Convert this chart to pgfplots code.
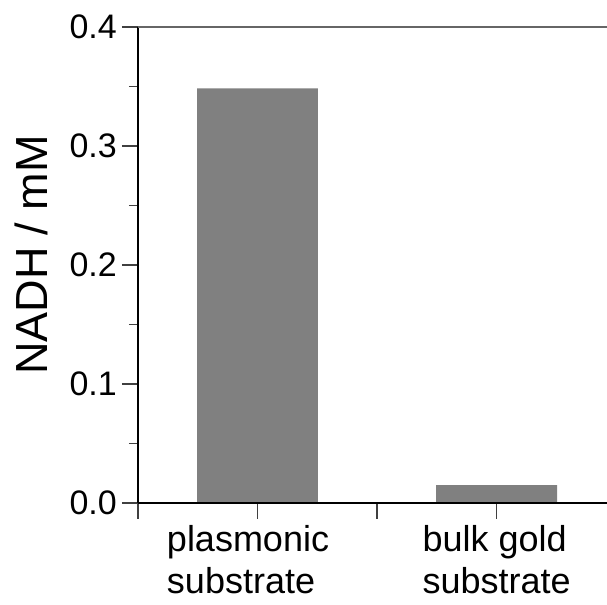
\documentclass[border=0pt]{standalone}
\usepackage{pgfplots}
\pgfplotsset{compat=1.18}
\usepackage{fontspec}
\setmainfont{Liberation Sans}
\begin{document}
\begin{tikzpicture}
\begin{axis}[
  name=ax,
  scale only axis,
  width=469pt, height=476pt,
  xmin=-0.5, xmax=1.462,
  ymin=0, ymax=0.4,
  axis x line=bottom,
  axis y line=left,
  axis line style={-, line width=1.1pt, black},
  tick align=outside,
  xtick={-0.5,0,0.5,1},
  xticklabels={,{\hspace*{-19pt}plasmonic\\\hspace*{-19pt}substrate},,{bulk gold\\substrate}},
  xticklabel style={align=left, font=\fontsize{36}{42}\selectfont, inner sep=0pt, yshift=-6pt},
  ytick={0,0.1,0.2,0.3,0.4},
  minor ytick={0.05,0.15,0.25,0.35},
  major tick length=16pt,
  minor tick length=9pt,
  every tick/.style={line width=1.1pt, black!75},
  yticklabel style={font=\fontsize{34}{40}\selectfont, inner sep=0pt, xshift=-5pt},
  /pgf/number format/.cd, fixed, fixed zerofill, precision=1, assume math mode=true,
  /pgfplots/.cd,
  ylabel={NADH / mM},
  ylabel style={font=\fontsize{45}{50}\selectfont, at={(axis description cs:-0.228,0.521)}, anchor=center, rotate=0},
  clip=false,
]
\addplot[ybar, bar width=0.506, fill=black!50, draw=none] coordinates {(0,0.3485) (1,0.015)};
\draw[line width=1.1pt, black!60] (rel axis cs:0,1) -- (rel axis cs:1,1);
\draw[line width=1.1pt, black] (rel axis cs:0,0) -- (rel axis cs:1,0);
\end{axis}
\pgfresetboundingbox
\path ([shift={(-138pt,-102pt)}]ax.south west) rectangle ([shift={(0pt,27pt)}]ax.north east);
\end{tikzpicture}
\end{document}
